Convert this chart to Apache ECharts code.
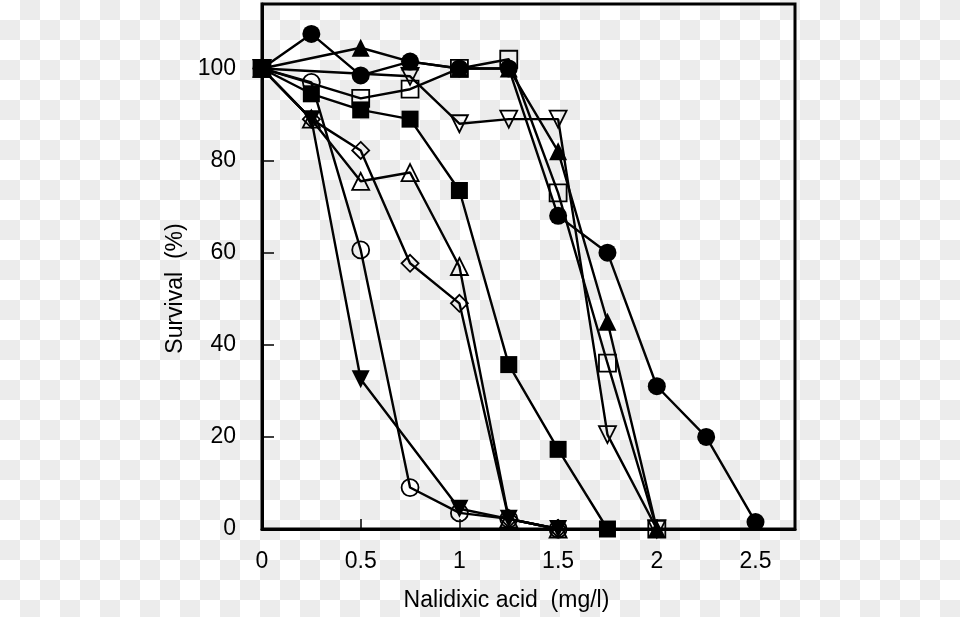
<!DOCTYPE html>
<html>
<head>
<meta charset="utf-8">
<script src="https://cdn.jsdelivr.net/npm/echarts@6/dist/echarts.min.js"></script>
<style>
  html, body { margin: 0; padding: 0; }
  body {
    width: 960px; height: 617px; overflow: hidden;
    background: repeating-conic-gradient(#ececec 0 25%, #ffffff 0 50%) 0 0 / 40px 40px;
  }
  #chart { width: 960px; height: 617px; }
</style>
</head>
<body>
<div id="chart"></div>
<script>
// Nalidixic acid concentration (mg/l)
const doses = [0, 0.25, 0.5, 0.75, 1, 1.25, 1.5, 1.75, 2, 2.25, 2.5];
// Survival (%) for each strain; null = no point plotted
const filledCircle   = [100, 107.5, 98.5, 101.5, 100, 100, 68, 60, 31, 20, 1.5];
const filledTriangle = [100, null, 104.5, 101.5, 100, 100, 82, 45, 0, null, null];
const openSquare     = [100, null, 93.5, 95.5, 100, 102, 73, 36, 0, null, null];
const filledSquare   = [100, 94.5, 91, 89, 73.5, 35.7, 17.3, 0, null, null, null];
const openDownTri    = [100, null, null, 98.3, 88, 89, 89, 20.5, 0, null, null];
const filledDownTri  = [100, 89, 32.5, null, 4.4, 2.2, 0, null, null, null, null];
const openCircle     = [100, 97, 60.6, 9, 3.5, 2.2, 0, null, null, null, null];
const openDiamond    = [100, 89, 82.2, 57.7, 49, 2.2, 0, null, null, null, null];
const openTriangle   = [100, 89, 75.5, 77.4, 57, 2.2, 0, null, null, null, null];

const xTicks = { min: 0, max: 2.7, interval: 0.5 };
const yTicks = { min: 0, max: 114, interval: 20 };

function pairs(vals) {
  return doses.map((d, i) => [d, vals[i]]).filter(p => p[1] !== null);
}

function mk(name, vals, symbol, size, filled, rotate) {
  return {
    name: name,
    type: 'line',
    data: pairs(vals),
    symbol: symbol,
    symbolSize: size,
    symbolRotate: rotate || 0,
    showAllSymbol: true,
    animation: false,
    lineStyle: { color: '#000', width: 2.4 },
    itemStyle: filled
      ? { color: '#000', borderColor: '#000', borderWidth: 0 }
      : { color: 'rgba(0,0,0,0)', borderColor: '#000', borderWidth: 1.8 },
    emphasis: { disabled: true }
  };
}

const font = '"Liberation Sans", Arial, Helvetica, sans-serif';
const chart = echarts.init(document.getElementById('chart'), null, { renderer: 'canvas' });
chart.setOption({
  backgroundColor: 'transparent',
  animation: false,
  grid: { left: 262, right: 165, top: 4, bottom: 85, show: true, borderColor: '#000', borderWidth: 3, backgroundColor: 'transparent' },
  xAxis: {
    type: 'value', min: xTicks.min, max: xTicks.max, interval: xTicks.interval,
    name: 'Nalidixic acid  (mg/l)', nameLocation: 'middle', nameGap: 60,
    nameTextStyle: { color: '#000', fontFamily: font, fontSize: 23, padding: [0, 44, 0, 0] },
    axisLine: { show: true, lineStyle: { color: '#000', width: 3 } },
    axisTick: { show: true, inside: true, length: 10, lineStyle: { color: '#000', width: 1.5 } },
    axisLabel: { color: '#000', fontFamily: font, fontSize: 23, margin: 21, showMaxLabel: false },
    splitLine: { show: false }
  },
  yAxis: {
    type: 'value', min: yTicks.min, max: yTicks.max, interval: yTicks.interval,
    name: 'Survival  (%)', nameLocation: 'middle', nameGap: 72,
    nameTextStyle: { color: '#000', fontFamily: font, fontSize: 23, padding: [0, 44, 0, 0] },
    axisLine: { show: true, lineStyle: { color: '#000', width: 3 } },
    axisTick: { show: true, inside: true, length: 12, lineStyle: { color: '#000', width: 1.5 } },
    axisLabel: { color: '#000', fontFamily: font, fontSize: 23, margin: 26, showMaxLabel: false },
    splitLine: { show: false }
  },
  series: [
    mk('filled circle', filledCircle, 'circle', 18, true),
    mk('filled triangle', filledTriangle, 'triangle', 18, true),
    mk('open square', openSquare, 'rect', 17, false),
    mk('filled square', filledSquare, 'rect', 17, true),
    mk('open inverted triangle', openDownTri, 'triangle', 17, false, 180),
    mk('filled inverted triangle', filledDownTri, 'triangle', 18, true, 180),
    mk('open circle', openCircle, 'circle', 17, false),
    mk('open diamond', openDiamond, 'diamond', 17, false),
    mk('open triangle', openTriangle, 'triangle', 17, false)
  ]
});
</script>
</body>
</html>
